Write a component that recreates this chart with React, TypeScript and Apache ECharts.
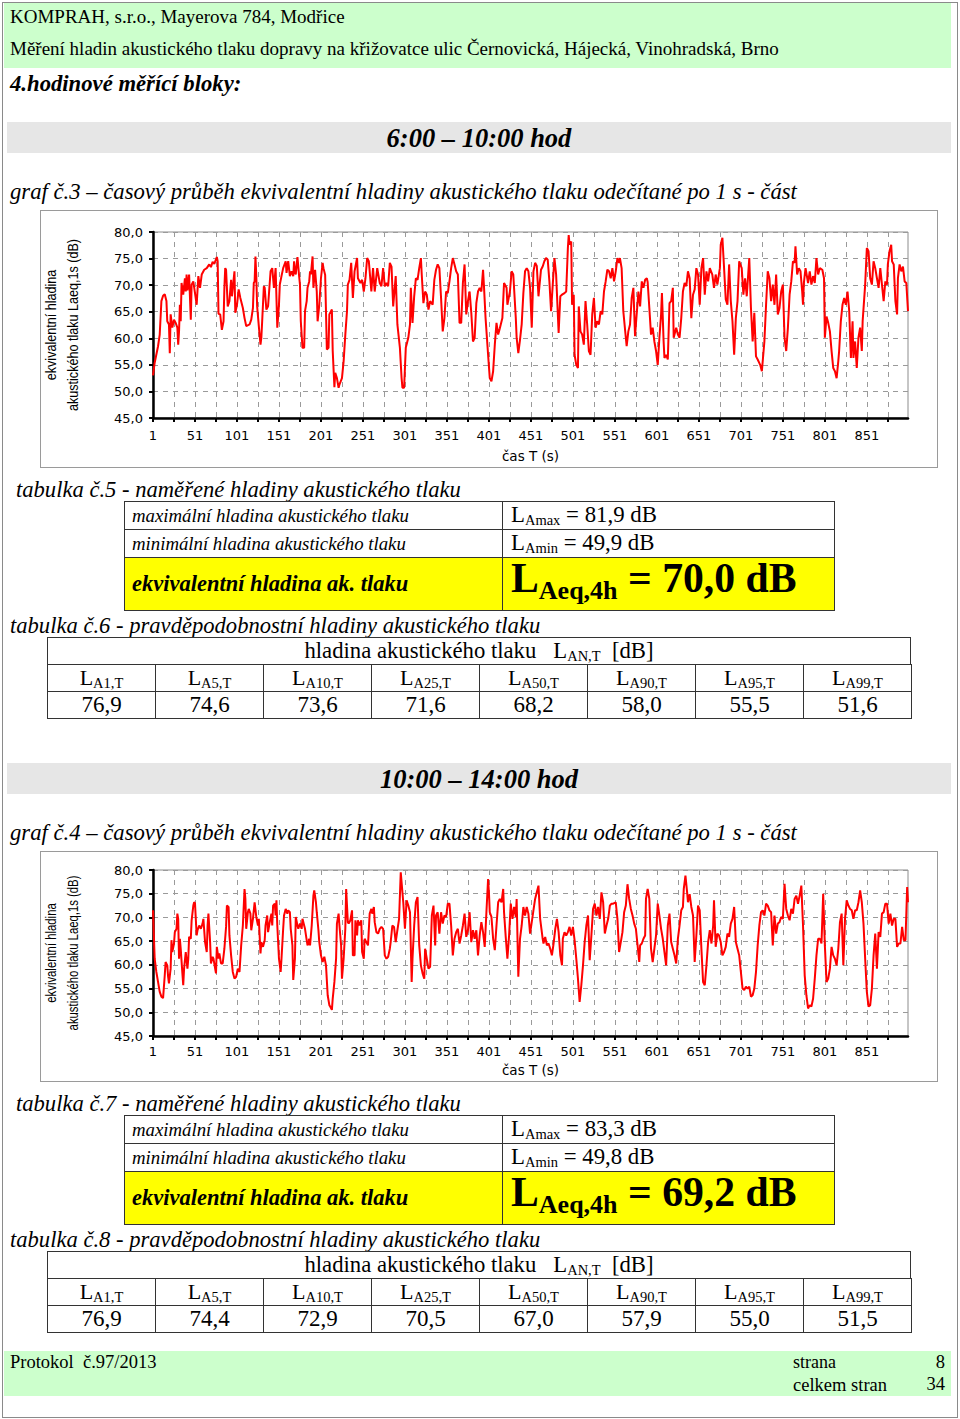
import React, { useEffect, useRef } from "react";
import * as echarts from "echarts";

// ---------- DATA ----------
const seconds: string[] = Array.from({ length: 900 }, (_, k) => String(k + 1));
const yTicks = [45, 50, 55, 60, 65, 70, 75, 80];

// graf č.3 (6:00 – 10:00) : [čas s, LAeq,1s dB]
const graf3Data: [number, number][] = [
  [1,53.0],[3,55.4],[7,58.5],[9,60.7],[11,67.0],[13,68.0],[15,68.3],[17,67.0],[18,63.2],[20,62.6],[21,57.2],[22,64.5],[24,62.0],[26,63.5],[28,62.9],[30,62.0],[31,58.8],[32,61.3],[33,66.3],[34,63.2],[35,70.4],[37,68.2],[39,71.3],[40,68.8],[41,72.0],[42,69.0],[44,72.0],[46,63.5],[47,70.1],[49,70.7],[53,66.3],[55,71.7],[57,69.5],[59,72.0],[62,72.9],[65,73.2],[68,73.9],[70,73.4],[72,74.4],[74,74.0],[77,75.3],[78,74.5],[79,64.6],[81,64.5],[83,61.6],[85,63.2],[86,69.5],[87,73.2],[88,72.9],[90,66.0],[92,67.0],[94,71.0],[95,67.9],[98,72.6],[99,64.8],[101,66.3],[103,69.2],[105,67.6],[108,65.7],[110,63.8],[112,62.3],[116,62.6],[118,63.5],[120,65.7],[121,70.4],[122,70.7],[123,75.4],[124,71.7],[125,66.0],[127,62.3],[129,58.8],[130,60.1],[131,63.2],[133,69.8],[134,69.5],[136,65.4],[138,66.0],[139,68.2],[141,72.6],[143,73.2],[145,69.5],[147,73.2],[149,62.0],[151,66.3],[152,70.1],[154,71.7],[156,73.2],[159,74.5],[160,72.3],[162,74.5],[164,71.7],[166,72.6],[168,71.7],[169,74.5],[170,72.6],[171,72.0],[173,75.3],[175,71.7],[176,70.1],[177,63.2],[179,58.2],[181,58.2],[182,65.1],[184,67.0],[185,69.5],[187,70.7],[188,72.6],[189,72.0],[191,75.4],[192,69.5],[194,72.9],[196,68.8],[197,63.2],[199,66.3],[201,71.3],[203,74.2],[204,73.2],[206,71.9],[208,57.9],[210,58.2],[211,64.5],[214,65.4],[215,57.6],[217,50.8],[218,53.5],[220,52.5],[222,50.7],[223,51.3],[226,52.5],[228,55.7],[230,60.7],[232,65.1],[233,70.1],[235,71.0],[237,74.2],[239,67.6],[241,72.6],[244,75.1],[245,71.3],[248,70.4],[250,71.0],[252,68.8],[254,71.3],[256,75.1],[258,74.5],[261,68.8],[263,73.2],[265,68.8],[268,73.2],
  [271,70.4],[273,69.8],[275,73.2],[277,69.8],[279,70.4],[281,69.8],[283,74.2],[285,73.5],[287,66.0],[290,71.7],[292,62.6],[295,58.2],[297,52.5],[298,50.7],[300,50.7],[302,58.2],[305,60.1],[307,62.6],[308,69.5],[310,62.9],[312,67.9],[314,71.3],[316,71.0],[318,73.2],[320,75.1],[321,72.0],[323,66.6],[325,68.8],[327,68.2],[329,65.4],[331,67.0],[334,66.3],[336,71.0],[338,72.9],[340,73.9],[342,73.2],[344,67.6],[346,61.3],[348,63.8],[350,68.8],[352,68.5],[354,70.7],[356,73.2],[358,75.1],[360,73.9],[362,72.6],[364,72.0],[366,62.9],[368,62.9],[370,70.4],[372,73.9],[374,64.5],[376,67.0],[378,68.8],[380,64.8],[382,59.4],[384,60.1],[386,66.6],[388,68.8],[390,69.5],[392,68.8],[394,72.9],[395,70.1],[397,63.8],[400,56.9],[402,52.5],[404,51.9],[406,53.8],[408,58.8],[410,62.9],[412,60.7],[414,61.9],[417,63.8],[419,70.4],[422,69.5],[423,66.3],[426,68.8],[428,72.6],[430,72.0],[433,63.8],[434,60.1],[436,57.2],[438,59.7],[440,62.6],[442,68.5],[444,72.6],[446,73.2],[448,72.6],[450,69.5],[452,62.0],[454,72.6],[456,74.2],[458,73.6],[460,67.9],[463,72.9],[465,73.5],[467,74.5],[469,75.1],[471,74.8],[473,70.7],[475,65.1],[477,70.1],[479,75.1],[481,72.0],[484,61.0],[486,67.9],[488,68.2],[491,68.5],[493,68.8],[495,77.0],[496,79.4],[497,77.6],[499,78.2],[500,66.3],[502,68.2],[503,56.9],[505,55.0],[507,54.4],[508,66.0],[510,61.3],[512,60.7],[514,58.8],[516,67.0],[518,62.6],[520,57.6],[522,56.9],[524,64.5],[526,67.6],[528,62.0],[530,63.2],[532,62.6],[534,65.1],[536,64.5],[538,68.8],[540,70.7],[542,72.9],[544,72.6],[546,71.3],[548,73.2],[550,70.7],[552,72.6],[554,75.1],[556,74.2],[557,75.1],[559,73.2],[561,65.1],[564,60.1],[565,58.5],[567,61.3],[569,62.6],[571,67.6],[573,69.5],[575,60.4],[576,62.6],[579,68.8],
  [581,66.0],[583,70.7],[585,69.5],[587,71.0],[589,71.3],[590,70.6],[592,65.7],[594,60.7],[596,62.0],[598,59.4],[600,57.6],[602,55.0],[604,60.1],[606,64.5],[607,68.5],[609,59.4],[610,56.3],[612,56.9],[614,56.0],[616,66.6],[618,67.0],[620,69.5],[621,60.1],[624,62.0],[626,60.7],[628,60.1],[630,63.8],[632,68.8],[634,70.4],[636,69.8],[638,72.6],[640,71.3],[642,63.8],[644,68.2],[646,69.2],[648,73.2],[650,72.0],[652,66.3],[654,73.2],[656,75.1],[658,68.2],[660,72.6],[662,70.7],[664,73.2],[667,72.0],[669,69.5],[671,72.0],[673,70.1],[676,73.2],[677,77.6],[679,78.9],[681,73.2],[683,67.3],[685,66.3],[687,73.9],[689,67.0],[691,63.2],[693,56.9],[695,63.8],[697,67.0],[699,74.5],[702,73.2],[704,68.2],[706,71.3],[708,67.9],[711,75.1],[713,65.7],[715,59.4],[717,64.8],[719,56.6],[721,56.0],[724,55.0],[726,53.8],[729,59.4],[731,66.3],[733,72.6],[735,71.3],[737,67.0],[739,70.1],[741,66.3],[743,72.0],[745,64.5],[747,65.7],[749,68.8],[751,70.1],[753,60.1],[755,57.6],[757,62.0],[759,68.2],[761,70.7],[763,74.5],[765,74.2],[766,77.3],[768,72.0],[770,73.2],[772,72.6],[774,68.8],[775,66.3],[776,70.4],[778,73.2],[781,70.4],[783,72.6],[785,70.1],[787,71.7],[789,70.4],[791,75.1],[793,72.0],[795,73.2],[798,72.9],[800,71.3],[801,60.1],[803,64.1],[805,62.9],[807,61.3],[809,57.6],[811,54.4],[813,53.8],[815,52.5],[817,55.7],[818,57.6],[820,63.2],[822,66.3],[824,67.6],[826,66.3],[828,68.8],[830,65.1],[832,56.3],[834,63.2],[835,56.3],[837,59.4],[839,54.4],[841,60.1],[843,62.0],[845,57.6],[846,63.2],[849,70.1],[851,77.0],[853,76.4],[855,71.3],[857,70.1],[859,74.5],[861,73.2],[863,71.3],[865,69.5],[867,73.2],[869,70.1],[871,67.0],[873,70.7],[875,70.1],[876,73.9],[878,76.4],[880,77.6],[881,74.5],[883,73.9],[885,67.0],[887,64.5],[888,71.3],[890,73.9],[892,72.6],[894,73.5],[896,70.7],[898,70.4],[900,65.1],
];

// graf č.4 (10:00 – 14:00)
const graf4Data: [number, number][] = [
  [1,71.5],[3,61.3],[5,58.5],[7,56.4],[9,54.3],[11,53.3],[13,53.0],[15,57.8],[16,60.6],[18,59.9],[19,57.5],[20,56.1],[22,59.2],[23,65.2],[24,62.7],[26,64.5],[27,66.9],[29,67.6],[30,70.8],[31,69.7],[32,61.3],[33,65.5],[34,63.4],[36,58.2],[37,55.7],[38,59.2],[40,62.7],[42,59.2],[43,61.3],[44,65.9],[46,65.5],[47,69.4],[49,72.5],[50,73.2],[51,73.0],[53,66.2],[54,67.3],[56,68.3],[58,67.6],[60,68.7],[61,69.7],[63,64.8],[65,62.7],[66,68.3],[67,70.8],[69,64.8],[70,60.3],[72,61.7],[73,61.3],[75,59.2],[76,58.2],[77,63.8],[79,61.3],[80,62.4],[82,60.3],[84,60.3],[86,63.4],[88,68.0],[89,72.5],[91,72.2],[92,66.2],[94,62.0],[96,58.5],[98,57.1],[100,57.5],[102,59.2],[104,58.5],[106,64.1],[108,68.3],[110,76.0],[111,73.9],[112,67.6],[114,71.1],[115,71.8],[117,70.8],[118,67.3],[120,69.7],[122,73.2],[124,70.1],[126,68.3],[127,69.7],[129,62.4],[130,64.8],[132,63.8],[134,65.2],[135,68.3],[137,70.4],[138,66.9],[140,69.0],[142,70.8],[143,68.3],[144,72.5],[146,72.9],[147,70.4],[148,73.6],[149,68.3],[151,61.3],[153,58.5],[154,61.3],[156,67.6],[157,70.4],[159,71.8],[161,70.8],[162,71.5],[164,71.1],[165,67.6],[167,64.1],[168,56.8],[170,61.3],[171,70.1],[173,68.3],[174,67.6],[176,68.7],[178,67.6],[179,69.7],[181,68.3],[182,67.6],[184,65.2],[185,64.1],[187,65.5],[188,64.1],[190,68.3],[192,74.6],[193,75.7],[195,73.2],[196,71.1],[198,67.3],[199,64.8],[201,62.0],[203,60.6],[205,61.7],[207,59.9],[209,53.6],[211,51.5],[212,51.2],[214,50.5],[215,52.9],[217,56.4],[219,61.3],[220,68.7],[222,70.8],[223,68.3],[225,64.1],[226,57.1],[228,61.3],[230,67.6],[231,76.0],[233,69.0],[234,68.7],[236,69.4],[238,71.5],[239,62.0],[241,62.0],[242,69.4],[244,66.2],[245,69.4],[247,68.3],[249,69.4],[250,62.7],[252,61.3],[253,65.5],[255,64.8],[257,64.1],[259,70.8],[261,71.8],[262,70.8],[264,72.2],[265,69.0],[267,66.9],
  [269,66.6],[271,67.6],[273,68.0],[275,67.6],[277,62.0],[279,61.3],[281,61.7],[283,63.4],[284,64.8],[286,68.3],[288,68.0],[290,64.8],[292,67.3],[294,69.7],[296,79.5],[298,75.3],[299,73.2],[301,67.6],[303,73.6],[305,72.5],[307,71.1],[309,56.4],[310,61.3],[312,68.3],[314,73.2],[316,74.3],[318,64.1],[320,59.9],[322,58.2],[324,57.1],[325,63.4],[327,61.3],[329,59.2],[331,59.6],[333,70.4],[335,72.5],[337,64.1],[338,70.4],[340,71.1],[342,66.6],[344,71.1],[346,68.7],[348,70.4],[350,70.1],[352,72.9],[354,72.9],[356,68.3],[358,62.0],[360,65.5],[362,66.9],[364,67.6],[366,64.5],[368,66.2],[370,68.3],[372,70.8],[374,65.9],[376,67.3],[378,71.1],[380,64.8],[382,67.3],[384,65.5],[386,67.3],[388,62.0],[390,66.2],[392,69.0],[394,66.9],[396,63.8],[398,71.1],[400,78.1],[401,75.3],[402,71.1],[404,70.1],[406,65.5],[408,63.1],[410,68.3],[412,73.2],[414,73.9],[416,73.2],[418,76.0],[419,71.1],[421,65.9],[423,61.3],[425,66.2],[427,72.9],[429,69.7],[431,72.2],[433,70.1],[434,73.9],[436,57.5],[438,65.5],[440,68.3],[442,72.2],[444,70.4],[446,72.2],[448,70.8],[450,66.6],[452,69.0],[454,71.5],[456,73.9],[458,75.3],[460,76.7],[462,69.7],[465,65.5],[466,64.5],[468,65.9],[470,64.1],[472,64.5],[474,63.4],[476,62.0],[478,64.5],[480,67.6],[482,69.7],[484,66.9],[486,62.0],[488,59.9],[489,65.5],[491,66.9],[493,66.2],[495,66.9],[497,68.0],[499,66.2],[501,68.0],[503,65.2],[505,61.3],[507,57.1],[509,52.2],[511,55.7],[513,59.9],[515,64.8],[517,68.3],[519,70.4],[521,61.0],[523,66.2],[525,71.8],[527,72.9],[529,70.4],[531,72.2],[533,69.7],[535,75.3],[537,73.2],[539,66.6],[541,68.3],[543,69.7],[545,72.5],[547,72.9],[549,72.9],[552,73.2],[554,69.7],[556,62.7],[558,64.8],[560,66.9],[562,71.1],[564,72.5],[566,77.0],[568,73.9],[570,71.8],[572,70.4],[574,68.7],[576,67.6],[578,64.1],[580,60.6],[581,64.1],[583,64.5],[585,65.5],[587,66.2],[588,73.9],[590,76.0],[592,73.9],
  [594,63.4],[596,60.6],[598,63.4],[600,66.2],[602,72.9],[604,70.4],[606,67.6],[608,65.5],[610,62.7],[612,59.9],[614,68.3],[616,70.8],[618,64.8],[620,63.4],[622,62.0],[624,60.3],[626,65.5],[628,68.3],[630,71.5],[632,72.2],[633,76.0],[635,78.8],[637,75.3],[638,73.2],[640,74.9],[642,72.2],[644,70.4],[646,60.6],[648,66.2],[650,72.5],[652,71.5],[654,63.4],[656,56.4],[658,55.7],[660,59.9],[662,64.8],[664,67.3],[666,64.5],[668,68.3],[669,73.6],[671,63.8],[673,66.6],[675,66.2],[677,64.8],[679,62.0],[681,62.7],[683,63.8],[685,66.6],[687,65.9],[689,68.7],[691,69.7],[693,72.2],[695,64.8],[697,63.4],[699,62.0],[701,58.5],[703,55.0],[705,54.7],[707,55.4],[709,55.0],[711,55.4],[713,53.3],[715,53.6],[717,55.0],[719,58.5],[721,64.1],[723,68.3],[725,71.1],[727,71.5],[729,70.4],[731,72.9],[733,72.5],[735,71.5],[737,71.1],[739,64.1],[741,70.4],[743,66.6],[745,68.7],[747,69.0],[749,70.1],[751,69.7],[753,77.1],[755,71.8],[757,70.4],[759,69.4],[761,71.8],[763,70.8],[765,73.9],[767,74.6],[769,72.9],[771,74.6],[773,76.7],[775,68.3],[777,57.8],[779,53.6],[781,50.8],[783,51.5],[785,51.2],[787,52.9],[789,57.1],[791,62.0],[793,65.5],[795,65.5],[797,64.5],[799,75.0],[801,64.1],[803,56.4],[805,57.1],[807,59.2],[809,63.8],[811,62.0],[813,61.3],[815,59.9],[817,63.4],[819,69.0],[821,70.8],[823,59.9],[825,69.7],[827,73.6],[829,72.5],[831,71.8],[833,71.5],[835,69.7],[837,71.5],[839,71.5],[841,73.2],[843,75.7],[845,73.2],[847,68.7],[849,61.3],[851,54.3],[853,51.2],[855,51.5],[857,55.0],[859,62.0],[861,66.6],[863,59.2],[865,66.9],[867,65.9],[869,70.8],[871,71.1],[873,72.9],[875,72.9],[877,68.7],[879,70.8],[881,68.3],[883,69.7],[885,69.7],[887,63.8],[889,64.5],[891,64.5],[893,68.0],[895,65.2],[897,65.2],[899,76.4],[900,73.2],
];

// table values
const percentileLabels = ["1", "5", "10", "25", "50", "90", "95", "99"];
const table6Values = ["76,9", "74,6", "73,6", "71,6", "68,2", "58,0", "55,5", "51,6"];
const table8Values = ["76,9", "74,4", "72,9", "70,5", "67,0", "57,9", "55,0", "51,5"];
const section1 = { period: "6:00 – 10:00 hod", graf: "3", tabA: "5", tabB: "6", lmax: "81,9", lmin: "49,9", laeq: "70,0" };
const section2 = { period: "10:00 – 14:00 hod", graf: "4", tabA: "7", tabB: "8", lmax: "83,3", lmin: "49,8", laeq: "69,2" };

// ---------- CHART ----------
const AX_FONT = "DejaVu Sans";

function makeOption(data: [number, number][], cfg: { top: number; bottom: number; labelMargin: number; nameGap: number; nameY: number; nameScale: number }) {
  const gridLine = { show: true, lineStyle: { color: "#9a9a9a", width: 1, type: [5, 5] as any } };
  return {
    animation: false,
    grid: { left: 113, right: 30, top: cfg.top, bottom: cfg.bottom, show: true, borderColor: "#8c8c8c", borderWidth: 1, backgroundColor: "#fff" },
    xAxis: {
      type: "category",
      data: seconds,
      boundaryGap: false,
      axisLine: { lineStyle: { color: "#000", width: 2.5 } },
      axisTick: { show: true, interval: 24, length: 4, lineStyle: { color: "#000", width: 2 } },
      axisLabel: { interval: 49, color: "#000", fontFamily: AX_FONT, fontSize: 13, margin: cfg.labelMargin },
      splitLine: { ...gridLine, interval: 24 },
      name: "čas T (s)",
      nameLocation: "middle",
      nameGap: cfg.nameGap,
      nameTextStyle: { color: "#000", fontFamily: AX_FONT, fontSize: 13.5 },
    },
    yAxis: {
      type: "value",
      min: yTicks[0],
      max: yTicks[yTicks.length - 1],
      interval: 5,
      axisLine: { show: true, lineStyle: { color: "#000", width: 2.5 } },
      axisTick: { show: true, length: 4, lineStyle: { color: "#000", width: 2 } },
      axisLabel: { color: "#000", fontFamily: AX_FONT, fontSize: 13, margin: 10, formatter: (v: number) => v.toFixed(1).replace(".", ",") },
      splitLine: gridLine,
    },
    graphic: [
      { type: "text", x: 11, y: cfg.nameY, rotation: Math.PI / 2, scaleX: cfg.nameScale, style: { text: "ekvivalentní hladina", font: '14px "Liberation Sans"', fill: "#000", align: "center", verticalAlign: "middle" } },
      { type: "text", x: 33, y: cfg.nameY, rotation: Math.PI / 2, scaleX: cfg.nameScale, style: { text: "akustického tlaku Laeq,1s (dB)", font: '14px "Liberation Sans"', fill: "#000", align: "center", verticalAlign: "middle" } },
    ],
    series: [
      {
        type: "line",
        data: data.map(([s, v]) => [String(s), v]),
        showSymbol: false,
        symbol: "none",
        lineStyle: { color: "#ff0000", width: 2 },
        itemStyle: { color: "#ff0000" },
      },
    ],
  };
}

function Chart({ data, left, top, width, height, cfg }: any) {
  const ref = useRef<HTMLDivElement>(null);
  useEffect(() => {
    if (!ref.current) return;
    const chart = echarts.init(ref.current, undefined, { renderer: "svg" });
    chart.setOption(makeOption(data, cfg) as any);
    return () => chart.dispose();
  }, []);
  return (
    <>
      <div ref={ref} style={{ position: "absolute", left, top, width, height }} />
      <div style={{ position: "absolute", left, top, width, height, boxSizing: "border-box", border: "1px solid #9a9a9a", pointerEvents: "none" }} />
    </>
  );
}

// ---------- TEXT HELPERS ----------
const SERIF = '"Liberation Serif", "Times New Roman", serif';

function Txt({ x, cy, size, bold, italic, children, center }: any) {
  const lh = Math.round(size * 1.3);
  return (
    <div
      style={{
        position: "absolute",
        left: center ? 0 : x,
        width: center ? 958 : undefined,
        textAlign: center ? "center" : "left",
        top: cy - lh / 2,
        height: lh,
        lineHeight: `${lh}px`,
        fontSize: size,
        fontWeight: bold ? "bold" : "normal",
        fontStyle: italic ? "italic" : "normal",
        whiteSpace: "nowrap",
        fontFamily: SERIF,
        color: "#000",
      }}
    >
      {children}
    </div>
  );
}

function Cell({ x, y, w, h, bg, children, center, pad }: any) {
  return (
    <div
      style={{
        position: "absolute",
        left: x,
        top: y,
        width: w,
        height: h,
        boxSizing: "border-box",
        border: "1px solid #333",
        background: bg || "transparent",
        display: "flex",
        alignItems: "center",
        justifyContent: center ? "center" : "flex-start",
        paddingLeft: center ? 0 : pad ?? 7,
        whiteSpace: "nowrap",
        fontFamily: SERIF,
        color: "#000",
      }}
    >
      {children}
    </div>
  );
}

function Sub({ size, children, drop }: any) {
  return <span style={{ fontSize: size, verticalAlign: `-${drop ?? 0.2}em` }}>{children}</span>;
}

function Section({ s, base, chartTop, chartH, data, cfg }: any) {
  const b = base;
  const tA = chartTop + chartH; // chart bottom
  return (
    <>
      <div style={{ position: "absolute", left: 7, top: b, width: 944, height: 31, background: "#e6e6e6" }} />
      <Txt center cy={b + 16} size={26.5} bold italic>{s.period}</Txt>
      <Txt x={10} cy={b + 70} size={22.7} italic>{`graf č.${s.graf} – časový průběh ekvivalentní hladiny akustického tlaku odečítané po 1 s - část`}</Txt>
      <Chart data={data} left={40} top={chartTop} width={898} height={chartH} cfg={cfg} />
      <Txt x={16} cy={tA + 21} size={22.6} italic>{`tabulka č.${s.tabA} - naměřené hladiny akustického tlaku`}</Txt>
      {/* table A */}
      <Cell x={124} y={tA + 33} w={379} h={29}><span style={{ fontSize: 18.8, fontStyle: "italic" }}>maximální hladina akustického tlaku</span></Cell>
      <Cell x={502} y={tA + 33} w={333} h={29} pad={8}>
        <span style={{ fontSize: 22.8 }}>L<Sub size={14.5}>Amax</Sub> = {s.lmax} dB</span>
      </Cell>
      <Cell x={124} y={tA + 61} w={379} h={29}><span style={{ fontSize: 18.8, fontStyle: "italic" }}>minimální hladina akustického tlaku</span></Cell>
      <Cell x={502} y={tA + 61} w={333} h={29} pad={8}>
        <span style={{ fontSize: 22.8 }}>L<Sub size={14.5}>Amin</Sub> = {s.lmin} dB</span>
      </Cell>
      <Cell x={124} y={tA + 89} w={379} h={54} bg="#ffff00"><span style={{ fontSize: 22.5, fontStyle: "italic", fontWeight: "bold" }}>ekvivalentní hladina ak. tlaku</span></Cell>
      <Cell x={502} y={tA + 89} w={333} h={54} bg="#ffff00" pad={8}>
        <span style={{ fontSize: 41.7, fontWeight: "bold", lineHeight: "44px" }}>L<Sub size={26} drop={0.25}>Aeq,4h</Sub> = {s.laeq} dB</span>
      </Cell>
      <Txt x={10} cy={tA + 157} size={22.6} italic>{`tabulka č.${s.tabB} - pravděpodobnostní hladiny akustického tlaku`}</Txt>
      {/* table B */}
      <Cell x={47} y={tA + 169} w={864} h={28} center>
        <span style={{ fontSize: 22.7 }}>hladina akustického tlaku&nbsp;&nbsp; L<Sub size={14.5}>AN,T</Sub>&nbsp;&nbsp;[dB]</span>
      </Cell>
      {percentileLabels.map((p, i) => (
        <Cell key={"l" + p} x={47 + i * 108} y={tA + 196} w={109} h={28} center>
          <span style={{ fontSize: 22 }}>L<Sub size={14.5}>{`A${p},T`}</Sub></span>
        </Cell>
      ))}
      {s.values.map((v: string, i: number) => (
        <Cell key={"v" + i} x={47 + i * 108} y={tA + 223} w={109} h={28} center>
          <span style={{ fontSize: 23 }}>{v}</span>
        </Cell>
      ))}
    </>
  );
}

export default function App() {
  return (
    <div style={{ position: "absolute", left: 0, top: 0, width: 960, height: 1419, background: "#fff", overflow: "hidden", fontFamily: SERIF }}>
      <div style={{ position: "absolute", left: 2, top: 2, width: 956, height: 1416, boxSizing: "border-box", border: "1px solid #8a8a8a" }} />
      {/* header */}
      <div style={{ position: "absolute", left: 4, top: 3, width: 947, height: 65, background: "#ccffcc" }} />
      <Txt x={10} cy={16} size={19}>KOMPRAH, s.r.o., Mayerova 784, Modřice</Txt>
      <Txt x={10} cy={48} size={19}>Měření hladin akustického tlaku dopravy na křižovatce ulic Černovická, Hájecká, Vinohradská, Brno</Txt>
      <Txt x={10} cy={84} size={22.7} bold italic>4.hodinové měřící bloky:</Txt>

      <Section s={{ ...section1, values: table6Values }} base={122} chartTop={210} chartH={258} data={graf3Data}
        cfg={{ top: 22, bottom: 50, labelMargin: 11, nameGap: 31, nameY: 115, nameScale: 0.9 }} />
      <Section s={{ ...section2, values: table8Values }} base={763} chartTop={851} chartH={231} data={graf4Data}
        cfg={{ top: 19, bottom: 45, labelMargin: 9, nameGap: 27, nameY: 102, nameScale: 0.81 }} />

      {/* footer */}
      <div style={{ position: "absolute", left: 4, top: 1351, width: 947, height: 45, background: "#ccffcc" }} />
      <Txt x={10} cy={1362} size={18.5}>Protokol&nbsp; č.97/2013</Txt>
      <Txt x={793} cy={1362} size={18}>strana</Txt>
      <Txt x={793} cy={1385} size={18.5}>celkem stran</Txt>
      <div style={{ position: "absolute", left: 900, width: 45, top: 1351, lineHeight: "22px", fontSize: 18.5, textAlign: "right", fontFamily: SERIF }}>8<br />34</div>
    </div>
  );
}
